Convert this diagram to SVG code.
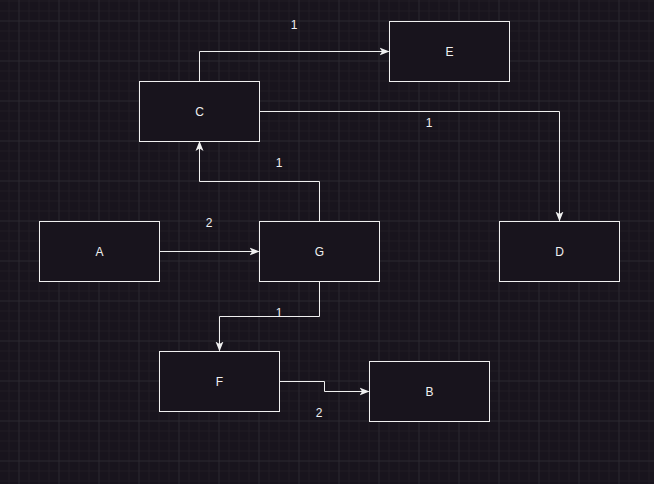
<svg xmlns="http://www.w3.org/2000/svg" width="654" height="484" viewBox="0 0 654 484">
<defs>
<pattern id="minor" width="10" height="10" patternUnits="userSpaceOnUse" x="-0.5" y="1.5">
<path d="M10 0V10M0 10H10" fill="none" stroke="#25222a" stroke-width="1"/>
</pattern>
<pattern id="major" width="40" height="40" patternUnits="userSpaceOnUse" x="-20.5" y="-18.5">
<path d="M40 0V40M0 40H40" fill="none" stroke="#302d35" stroke-width="1"/>
</pattern>
<marker id="arr" viewBox="0 0 10 10" refX="9" refY="5" markerWidth="10" markerHeight="10" markerUnits="userSpaceOnUse" orient="auto">
<path d="M0 1L10 5L0 9L2.5 5Z" fill="#f0f0f0"/>
</marker>
</defs>
<style>
.node rect{fill:#18141d;stroke:#f0f0f0;stroke-width:1}
.node text{fill:#f0f0f0;font-family:"Liberation Sans",Arial,sans-serif;font-size:12px;text-anchor:middle;dominant-baseline:central}
.edge{fill:none;stroke:#f0f0f0;stroke-width:1;marker-end:url(#arr)}
.lbl{fill:#f0f0f0;font-family:"Liberation Sans",Arial,sans-serif;font-size:12px;text-anchor:middle;dominant-baseline:central}
</style>
<rect width="654" height="484" fill="#18141d"/>
<rect width="654" height="484" fill="url(#minor)"/>
<rect width="654" height="484" fill="url(#major)"/>
<g transform="translate(-1,0)">
<g id="connectors">
<path class="edge" d="M200.5 81.5V51.5H389.5"/>
<path class="edge" d="M260.5 111.5H560.5V220.5"/>
<path class="edge" d="M320.5 221.5V181.5H200.5V142"/>
<path class="edge" d="M160.5 251.5H259.5"/>
<path class="edge" d="M320.5 281.5V316.5H220.5V350.5"/>
<path class="edge" d="M280.5 381.5H325.5V391.5H369.5"/>
<text class="lbl" x="295" y="25">1</text>
<text class="lbl" x="430" y="123">1</text>
<text class="lbl" x="280" y="163">1</text>
<text class="lbl" x="210" y="223">2</text>
<text class="lbl" x="280" y="313">1</text>
<text class="lbl" x="320" y="413">2</text>
</g>
<g id="node-C" class="node"><rect x="140.5" y="81.5" width="120" height="60"/><text x="200.5" y="111.5">C</text></g>
<g id="node-E" class="node"><rect x="390.5" y="21.5" width="120" height="60"/><text x="450.5" y="51.5">E</text></g>
<g id="node-A" class="node"><rect x="40.5" y="221.5" width="120" height="60"/><text x="100.5" y="251.5">A</text></g>
<g id="node-G" class="node"><rect x="260.5" y="221.5" width="120" height="60"/><text x="320.5" y="251.5">G</text></g>
<g id="node-D" class="node"><rect x="500.5" y="221.5" width="120" height="60"/><text x="560.5" y="251.5">D</text></g>
<g id="node-F" class="node"><rect x="160.5" y="351.5" width="120" height="60"/><text x="220.5" y="381.5">F</text></g>
<g id="node-B" class="node"><rect x="370.5" y="361.5" width="120" height="60"/><text x="430.5" y="391.5">B</text></g>
</g>
</svg>
